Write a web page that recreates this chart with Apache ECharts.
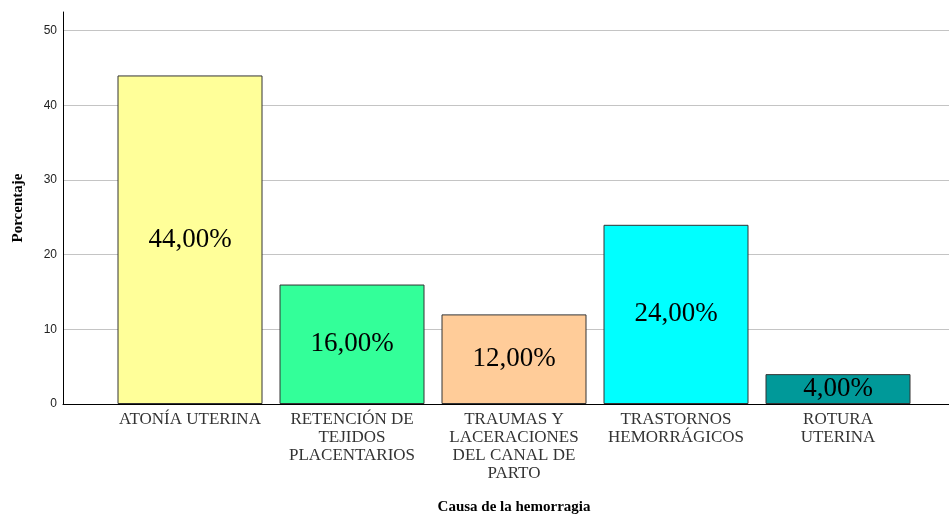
<!DOCTYPE html>
<html>
<head>
<meta charset="utf-8">
<script src="https://cdn.jsdelivr.net/npm/echarts@6/dist/echarts.min.js"></script>
<style>
  html, body { margin: 0; padding: 0; background: #fff; }
  #main { width: 949px; height: 515px; }
</style>
</head>
<body>
<div id="main"></div>
<script>
// causes of hemorrhage and their percentages
const categories = [
  'ATONÍA UTERINA',
  'RETENCIÓN DE\nTEJIDOS\nPLACENTARIOS',
  'TRAUMAS Y\nLACERACIONES\nDEL CANAL DE\nPARTO',
  'TRASTORNOS\nHEMORRÁGICOS',
  'ROTURA\nUTERINA'
];
const values = [44, 16, 12, 24, 4];
const barColors = ['#ffff99', '#33ff99', '#ffcc99', '#00ffff', '#009999'];

const serif = '"Liberation Serif", "Times New Roman", serif';

const chart = echarts.init(document.getElementById('main'));

const option = {
  animation: false,
  backgroundColor: '#fff',
  grid: [
    // frame: axis lines + gridlines across full width
    { left: 63, right: 0, top: 12, bottom: 111, outerBoundsMode: 'none', containLabel: false },
    // bars sit in a narrower band
    { left: 109, right: 30, top: 12, bottom: 111, outerBoundsMode: 'none', containLabel: false }
  ],
  xAxis: [
    {
      gridIndex: 0,
      type: 'value',
      min: 0,
      max: 1,
      axisLine: { show: true, lineStyle: { color: '#000', width: 1 } },
      axisTick: { show: false },
      axisLabel: { show: false },
      splitLine: { show: false }
    },
    {
      gridIndex: 1,
      type: 'category',
      data: categories,
      axisLine: { show: false },
      axisTick: { show: false },
      axisLabel: {
        interval: 0,
        margin: 7,
        fontFamily: serif,
        fontSize: 17,
        lineHeight: 18,
        color: '#333'
      },
      name: 'Causa de la hemorragia',
      nameLocation: 'middle',
      nameGap: 96,
      nameTextStyle: {
        fontFamily: serif,
        fontSize: 15,
        fontWeight: 'bold',
        color: '#000'
      }
    }
  ],
  yAxis: [
    {
      gridIndex: 0,
      type: 'value',
      min: 0,
      max: 52.5,
      interval: 10,
      axisLine: { show: true, lineStyle: { color: '#000', width: 1 } },
      axisTick: { show: false },
      axisLabel: {
        showMaxLabel: false,
        margin: 6,
        fontFamily: 'Arial, "Liberation Sans", sans-serif',
        fontSize: 12,
        color: '#222'
      },
      splitLine: { show: true, showMaxLine: false, lineStyle: { color: '#c4c4c4', width: 1 } },
      name: 'Porcentaje',
      nameLocation: 'middle',
      nameGap: 37,
      nameTextStyle: {
        fontFamily: serif,
        fontSize: 15,
        fontWeight: 'bold',
        color: '#000'
      }
    },
    {
      gridIndex: 1,
      type: 'value',
      min: 0,
      max: 52.5,
      show: false
    }
  ],
  series: [
    {
      type: 'bar',
      xAxisIndex: 1,
      yAxisIndex: 1,
      barWidth: 145,
      data: values.map((v, i) => ({
        value: v,
        itemStyle: { color: barColors[i] }
      })),
      itemStyle: { borderColor: '#333', borderWidth: 1 },
      label: {
        show: true,
        position: 'inside',
        fontFamily: serif,
        fontSize: 27,
        color: '#000',
        formatter: p => p.value.toFixed(2).replace('.', ',') + '%'
      }
    }
  ]
};

chart.setOption(option);
</script>
</body>
</html>
